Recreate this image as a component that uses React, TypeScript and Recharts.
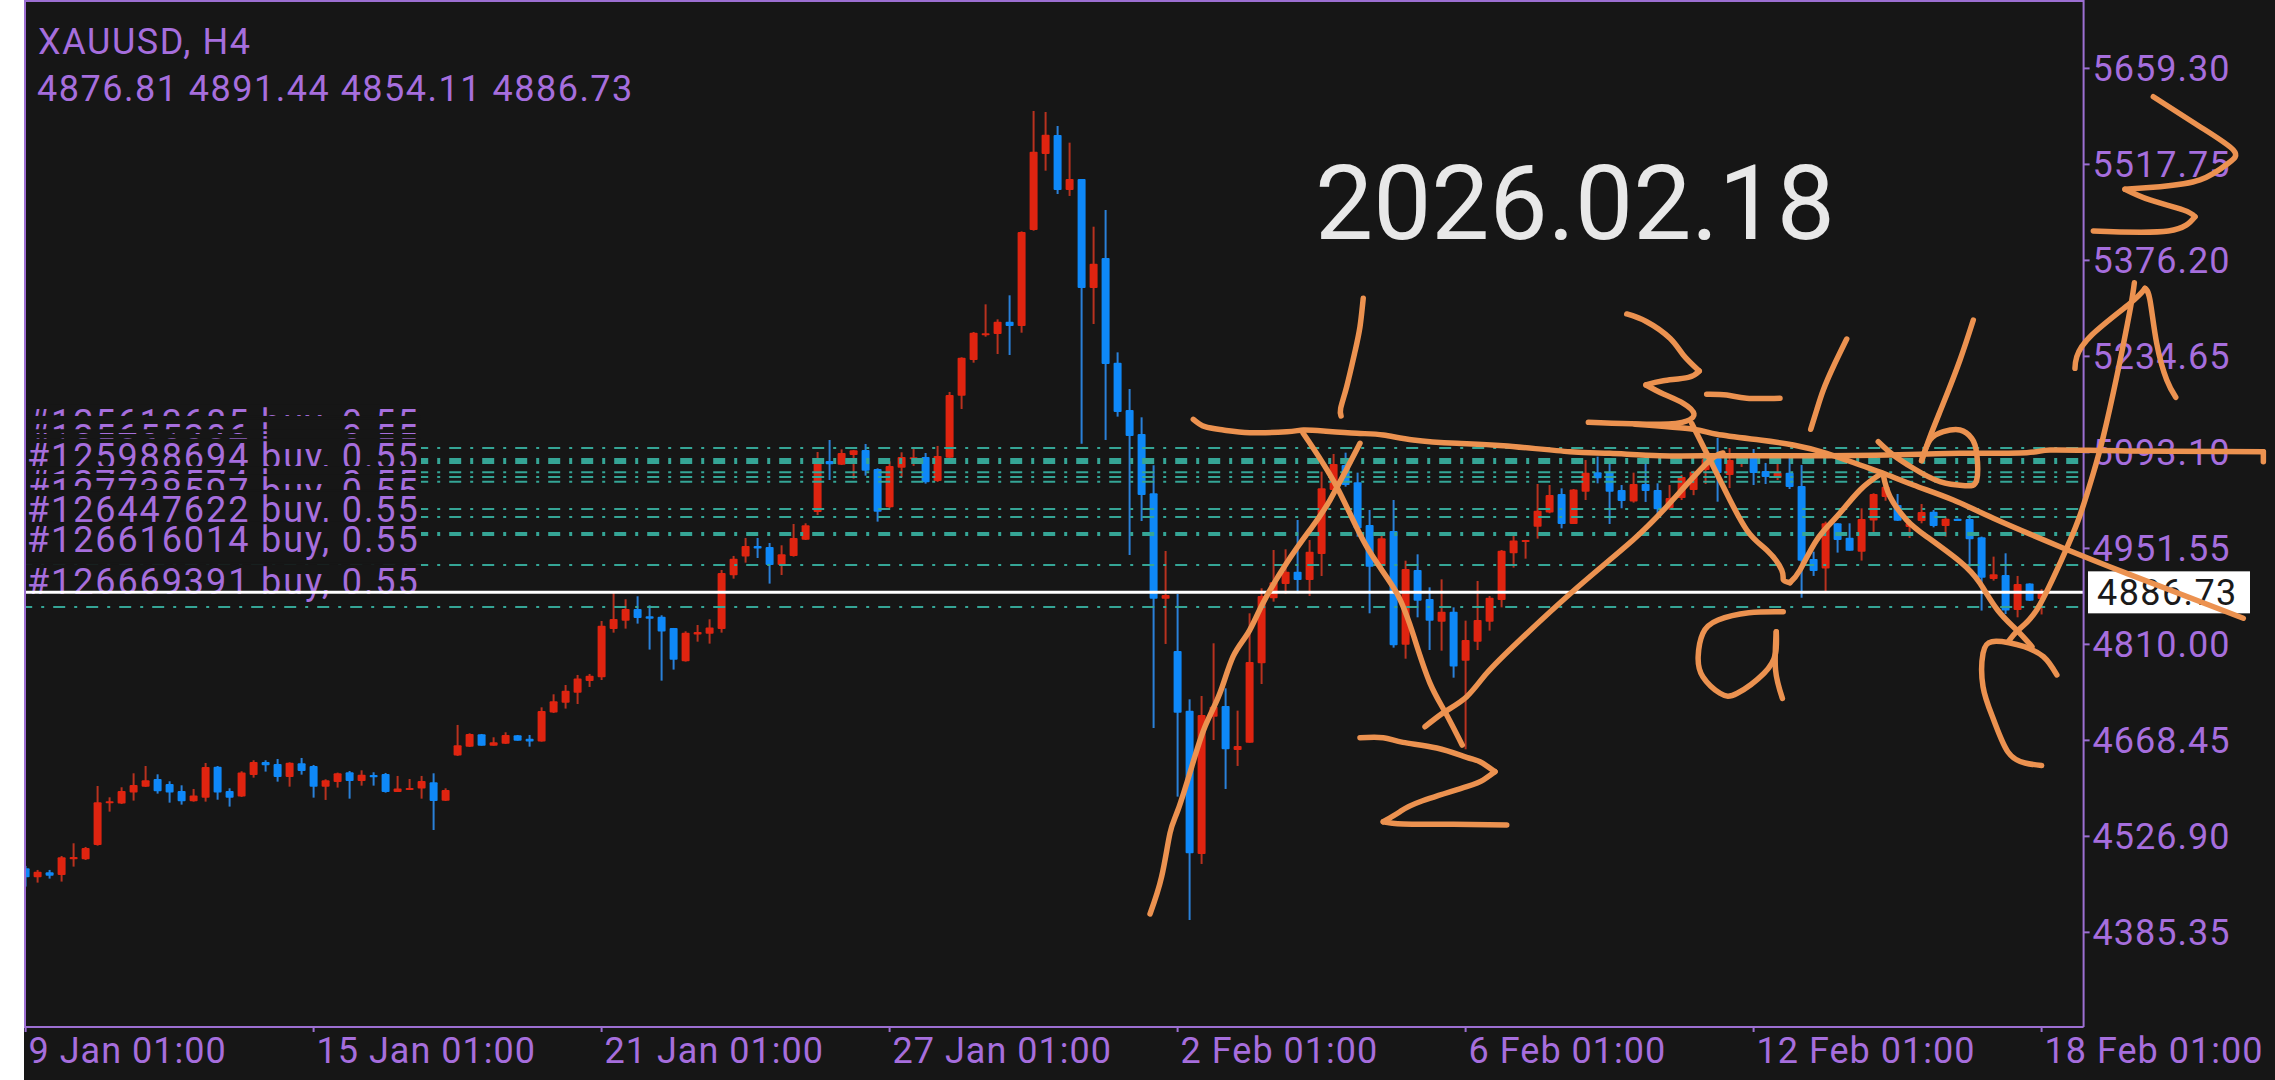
import {
  Bar,
  ComposedChart,
  ReferenceLine,
  Scatter,
  ScatterChart,
  XAxis,
  YAxis,
} from "recharts";

const WIDTH = 2275;
const HEIGHT = 1080;
const BG = "#161616";
const PURPLE = "#a66edd";
const FRAME = "#9c6fd2";
const TEAL = "#35a596";
const INK = "#ec9250";
const UP = "#df2410";
const DOWN = "#0e88f8";
const UP_WICK = "#b8321f";
const DOWN_WICK = "#2a80d8";
const FONT = "Roboto, 'Noto Sans', sans-serif";

const opens = [
  4479.8, 4466.5, 4473.9, 4470, 4493.1, 4493.1, 4514.2, 4576.2, 4575.2, 4591.4, 4600.2, 4611.5,
  4604.2, 4593.9, 4578.6, 4584, 4629.7, 4593.9, 4585.5, 4617.4, 4636.6, 4633.7, 4614.5, 4634.6,
  4630.7, 4600.2, 4607.1, 4621.4, 4608.6, 4617.4, 4618.9, 4592.4, 4595.3, 4597.3, 4606.6, 4579.6,
  4646, 4659.2, 4677.4, 4660.7, 4663.6, 4675.9, 4671, 4666.6, 4709.4, 4724.1, 4738.8, 4756,
  4761.5, 4832.7, 4845, 4862.2, 4851.4, 4850.9, 4834.2, 4785, 4824.4, 4825.8, 4832.7, 4911.9,
  4939.4, 4955.1, 4953.6, 4927, 4940.4, 4964.4, 5005.2, 5080.4, 5075, 5089.3, 5096.7, 5068.6,
  5012.1, 5070.6, 5082.9, 5086.3, 5050.9, 5085.3, 5176.7, 5229.3, 5265.7, 5267.7, 5285.9, 5279.5,
  5421, 5533.1, 5561.1, 5480, 5496.2, 5335.5, 5379.7, 5225.4, 5155.6, 5120.2, 5032.7, 4877.4,
  4800.2, 4712.3, 4500.9, 4703.4, 4719.2, 4654.3, 4665.1, 4782.1, 4877.9, 4899, 4917.2, 4904.9,
  4943.3, 5037.6, 5074.5, 5049, 4986, 4925.6, 4977.2, 4809.6, 4919.7, 4876.9, 4843.5, 4858.2,
  4786, 4814, 4843.5, 4875.4, 4944.3, 4961, 4983.6, 5004.3, 5031.8, 4987.5, 5035.2, 5063.7,
  5063.7, 5037.7, 5020.5, 5046.5, 5037.7, 5011.1, 5025.9, 5037.6, 5067.1, 5084.8, 5059.8, 5079,
  5092.2, 5065.7, 5055.8, 5063.2, 5043.6, 4935.9, 4921.7, 4988.5, 4967.4, 4946.7, 4992.5, 5027.3,
  5015.5, 4983, 4992, 5005.7, 4984.6, 4995.4, 4994.9, 4967.9, 4906.4, 4912.3, 4860.7, 4899.6, 4876.81,
];

const highs = [
  4483.3, 4477.4, 4477.4, 4498, 4516.7, 4511.3, 4601.2, 4584.5, 4599.3, 4619.9, 4630.7, 4618.4,
  4608.1, 4602.2, 4596.8, 4635.1, 4630.7, 4597.8, 4622.9, 4639.1, 4639.1, 4641, 4636.1, 4642.5,
  4632.2, 4611, 4620.9, 4623.3, 4624.3, 4621.4, 4620.4, 4616, 4611.5, 4616, 4619.9, 4597.8,
  4691.2, 4678.9, 4677.9, 4673, 4680.4, 4676.4, 4676.4, 4717.2, 4736.4, 4750.1, 4764.9, 4766.4,
  4844.5, 4887.8, 4876.5, 4880.9, 4867.6, 4852.9, 4834.2, 4829.3, 4838.6, 4847, 4919.7, 4940.4,
  4966.9, 4966.9, 4959.5, 4956.1, 4987.5, 4988.5, 5093.7, 5111.4, 5097.6, 5096.7, 5105.5, 5069.6,
  5079.9, 5093.2, 5100.6, 5092.2, 5102.6, 5182.2, 5233.3, 5270.6, 5311.4, 5289.3, 5324.7, 5419,
  5596.5, 5595, 5574.4, 5549.8, 5496.2, 5425.9, 5450.5, 5240.6, 5186.6, 5144.8, 5074, 4947.7,
  4884.3, 4729, 4733.9, 4811.6, 4745.2, 4712.3, 4855.8, 4892.7, 4949.2, 4950.2, 4993.4, 4963.9,
  5064.7, 5090.7, 5092.7, 5063.2, 5008.2, 4969.8, 5022.9, 4933.4, 4942.8, 4894.1, 4905.9, 4864.6,
  4845, 4903.5, 4881.4, 4949.2, 4971.3, 4964, 5046.5, 5045, 5040.1, 5039.1, 5081.9, 5086.8,
  5081.9, 5045, 5063.2, 5086.8, 5047.5, 5045, 5060, 5066, 5089.3, 5114.3, 5099.6, 5092.2,
  5098.1, 5077.5, 5079, 5084.8, 5074.5, 4946.7, 4991, 4988.5, 4988.5, 5010.6, 5032.8, 5046.5,
  5031.8, 4993.4, 5017, 5008.2, 4997.4, 4995.4, 5000.8, 4968.9, 4939.4, 4944.3, 4910.9, 4900, 4891.44,
];

const lows = [
  4452.8, 4458.7, 4464.6, 4460.2, 4482.3, 4492.1, 4513.2, 4563.4, 4574.7, 4579.6, 4599.8, 4589.9,
  4576.6, 4573.7, 4578.1, 4578.1, 4581, 4570.8, 4585, 4613.5, 4622.4, 4607.6, 4600.2, 4617.9,
  4584, 4580.6, 4598.8, 4582.5, 4601.7, 4601.7, 4591.4, 4592.4, 4595.3, 4582.5, 4536.3, 4579.1,
  4645.5, 4658.7, 4660.7, 4660.7, 4663.2, 4668, 4659.2, 4666.6, 4708.9, 4715.3, 4722.1, 4747.2,
  4757.5, 4827.3, 4833.2, 4840.6, 4802.3, 4756.5, 4772.8, 4784.6, 4814, 4811.1, 4827.3, 4906.9,
  4930.5, 4937.4, 4899.6, 4912.3, 4939.4, 4963.9, 5000.8, 5052.4, 5074.5, 5054.4, 5058.8, 4991,
  5011.1, 5056.9, 5073.1, 5047, 5049.5, 5080.9, 5157.1, 5225.4, 5263.7, 5238.2, 5236.7, 5269.6,
  5420, 5508.5, 5474.1, 5471.2, 5105.9, 5282.4, 5111.4, 5145.8, 4941.8, 4991.9, 4686.7, 4810.6,
  4585.5, 4403.6, 4486.2, 4669, 4596.8, 4630.7, 4665.1, 4751.6, 4873, 4884.3, 4885.3, 4881.3,
  4910.8, 5032.7, 5042.6, 4968.8, 4855.8, 4924.6, 4805.2, 4788.9, 4849.9, 4801.7, 4800.7, 4760.9,
  4655.3, 4801.7, 4830.2, 4864.6, 4923.2, 4936.4, 4965.9, 5003.3, 4981.1, 4987.5, 5022.9, 5047.5,
  4987.5, 5010.7, 5019, 5020, 5000.8, 5008.2, 5022.9, 5030, 5046.5, 5020.4, 5040.6, 5071.6,
  5045, 5046.5, 5052.4, 5039.1, 4878.8, 4910.9, 4887.3, 4945.3, 4948.2, 4933.5, 4975.8, 5021.8,
  4992, 4966.9, 4988.5, 4982.6, 4968.9, 4992, 4924.6, 4859.8, 4904, 4854.8, 4849.9, 4874, 4854.11,
];

const closes = [
  4466.5, 4474.9, 4469, 4496, 4496.5, 4509.8, 4577.1, 4578.6, 4593.9, 4602.7, 4609.6, 4593.4,
  4591.4, 4578.6, 4587, 4629.2, 4591.4, 4584, 4620.9, 4636.6, 4631.7, 4614.5, 4635.6, 4623.3,
  4600.2, 4609.6, 4619.9, 4608.6, 4617.9, 4614, 4592.4, 4597.3, 4598.3, 4608.6, 4579.1, 4595.3,
  4661.2, 4677.9, 4660.7, 4665.6, 4676.4, 4668, 4666.6, 4711.8, 4726, 4741.8, 4759.5, 4763.9,
  4837.6, 4847.5, 4862.2, 4849, 4847.9, 4828.8, 4787.5, 4827.3, 4828.3, 4834.7, 4915.3, 4936.4,
  4955.1, 4951.2, 4927, 4942.8, 4966.9, 4985.6, 5080.4, 5075.5, 5092.2, 5096.2, 5066.2, 5005.7,
  5073.1, 5086.3, 5085.8, 5049, 5087.8, 5177.7, 5232.8, 5269.6, 5268.6, 5285.9, 5279.5, 5418.1,
  5536.5, 5561.6, 5480, 5496.2, 5335.5, 5371.4, 5223.4, 5152.7, 5117.3, 5030.3, 4877.4, 4882.8,
  4709.3, 4501.9, 4705.9, 4718.2, 4655.3, 4660.2, 4784, 4881.4, 4901.5, 4917.2, 4904.9, 4946.7,
  5040.1, 5076, 5045, 4981.1, 4924.6, 4966.4, 4808.6, 4921.2, 4874.5, 4845, 4858.2, 4777.2,
  4816.5, 4846, 4878.9, 4948.2, 4963, 4964, 5007.2, 5030.3, 4987.5, 5038.2, 5063.2, 5054.9,
  5035.2, 5021.5, 5046.5, 5036.2, 5009.2, 5025.9, 5056.8, 5064.6, 5083.4, 5062.7, 5081.9, 5086.3,
  5062.7, 5056.8, 5063.2, 5042, 4933.4, 4918.2, 4988.5, 4964, 4948.2, 4994.9, 5031.8, 5042.5,
  4992.4, 4989, 5005.2, 4984.6, 4995.4, 4992, 4964.9, 4908.4, 4913.3, 4859.8, 4899, 4874.5, 4886.73,
];

const priceTicks = [5659.3, 5517.75, 5376.2, 5234.65, 5093.1, 4951.55, 4810, 4668.45, 4526.9, 4385.35];
const timeTicks = [0, 24, 48, 72, 96, 120, 144, 168];
const timeLabels = [
  "9 Jan 01:00", "15 Jan 01:00", "21 Jan 01:00", "27 Jan 01:00",
  "2 Feb 01:00", "6 Feb 01:00", "12 Feb 01:00", "18 Feb 01:00",
];

const orderPrices = [
  5099.6, 5083.4, 5080.4, 5077.5, 5063.8, 5056.8, 5049.9, 5009.6, 4997.8, 4974.3, 4971.3, 4927.1, 4865,
];
const orderTickets = [
  "#125613685", "#125622197", "#125640318", "#125655206", "#125701442", "#125860027", "#125988694",
  "#127038574", "#127738597", "#126402251", "#126447622", "#126616014", "#126669391",
];
const bidPrice = 4886.73;

// hand drawn marks, as [candle number, price]; a sharp corner starts a new stroke
const waveUp = [[93.7, 4412.5], [94.67, 4467.5], [95.37, 4531.9], [96.03, 4565.8], [97.18, 4629.7], [98.28, 4688.6], [99.53, 4738.3], [100.62, 4791.9], [101.87, 4826.8], [103.12, 4871], [105.09, 4930], [107.03, 4978.7], [108.7, 5022.9], [111.2, 5106.5]];
const waveDown = [[106.45, 5121.7], [109.26, 5042.5], [111.76, 4954], [114.26, 4885.8], [115.78, 4816.5], [117.03, 4753], [118.28, 4710.7], [119.72, 4661.6]];
const twoTop = [[111.2, 4672.4], [113.14, 4672.4], [114.78, 4665.6], [117.59, 4657.2], [120.09, 4643.5], [121.2, 4637], [122.45, 4622.3]];
const twoMiddle = [[122.45, 4622.3], [121.47, 4610], [120.09, 4600.2], [116.2, 4578], [114.53, 4563.3], [113.14, 4548.5]];
const twoBase = [[113.14, 4548.5], [114.81, 4545.2], [118.98, 4544.7], [123.43, 4543.7]];
const topLine = [[97.31, 5141.9], [98.28, 5131], [99.81, 5126.1], [102.03, 5122.2], [105.09, 5123.6], [106.48, 5126.1], [108.14, 5124.7], [110.93, 5121.3], [113.14, 5118.8], [115.64, 5111.4], [119.26, 5106.5], [123.14, 5103], [128.7, 5094.1], [132.03, 5091.8], [136.2, 5088.2], [141.76, 5088.2], [150.09, 5088.2], [157.87, 5090.3], [161.2, 5091.8], [166.76, 5092.7], [168.7, 5096.6], [175.09, 5095.2], [186.48, 5094.1]];
const topLineHook = [[186.48, 5094.1], [186.48, 5079.4]];
const oneLeft = [[111.47, 5320.3], [111.2, 5278.4], [110.78, 5241.6], [110.09, 5190], [109.59, 5158.1], [109.62, 5146.8]];
const threeUpper = [[133.43, 5297.2], [135.09, 5285.8], [137.03, 5261.3], [138.14, 5236.7], [139.47, 5213.1]];
const threeMiddle = [[139.47, 5213.1], [138.56, 5203.8], [136.48, 5198.8], [135.03, 5192.5]];
const threeLower = [[135.03, 5192.5], [136.48, 5179.2], [138.14, 5165.5], [139.03, 5149.7], [138.43, 5139.4], [136.2, 5134.5], [130.23, 5137.5]];
const fallingLine = [[134.12, 5134.5], [138.98, 5127.2], [140.93, 5119.8], [144.53, 5111.4], [147.31, 5104], [150.09, 5091.8], [152.87, 5074.5], [154.81, 5062.3], [157.31, 5045], [160.64, 5022.9], [163.98, 4996], [169.53, 4954.1], [175.09, 4914.8], [184.81, 4848.5]];
const dash = [[140.09, 5178.8], [141.76, 5177.7], [143.43, 5172.9], [146.2, 5172.9]];
const slash = [[151.76, 5260.3], [150.64, 5219.4], [149.81, 5185.1], [149.26, 5155.6], [148.76, 5127.2]];
const bStem = [[162.31, 5288.3], [161.2, 5229.4], [159.81, 5165.5], [158.7, 5116.2], [158, 5080.9]];
const bBowl = [[158, 5080.9], [158.7, 5111.4], [159.81, 5123.6], [161.2, 5126.1], [162.18, 5113.9], [162.59, 5091.8], [162.59, 5052.4], [161.62, 5044], [159.53, 5049.9], [157.31, 5069.7], [155.64, 5089.3], [154.39, 5108.9]];
const longRise = [[116.62, 4688.6], [118.28, 4710.8], [120.09, 4732.9], [121.76, 4767.4], [124.53, 4816.5], [129.26, 4893.1], [133.95, 4964], [137.03, 5018.5], [140.09, 5077], [141.45, 5092.2]];
const legADown = [[138.84, 5136], [140.09, 5091.8], [141.48, 5042.5], [143.43, 4978.7], [145.09, 4949.2], [146.34, 4919.7], [146.48, 4905], [147.03, 4901]];
const legAUp = [[147.03, 4901], [147.87, 4919.7], [149.26, 4964], [150.93, 4998.3], [152.87, 5037.7], [154.68, 5062.3]];
const legC = [[154.81, 5059.8], [155.37, 5027.8], [156.76, 4993.4], [158.43, 4968.8], [161.2, 4932], [162.87, 4900.1], [164.33, 4860.7], [165.92, 4831.2], [167.2, 4806.6]];
const aBowl = [[146.47, 4858.2], [143.6, 4856.7], [141.04, 4846], [139.77, 4826.4], [139.38, 4791.9], [139.77, 4762.4], [141.2, 4737.9], [142.64, 4737.9], [144.87, 4767.4], [145.83, 4796.9], [145.89, 4828.7]];
const aTail = [[145.89, 4828.7], [145.83, 4772.3], [146.4, 4730.5]];
const letterC = [[169.27, 4764.9], [168.15, 4791.9], [166.56, 4806.6], [165.28, 4812.5], [163.85, 4814], [163.12, 4796.9], [163.12, 4747.6], [164.01, 4698.5], [165.2, 4651.3], [166.62, 4635.1], [168, 4631.3]];
const nextRise = [[165.23, 4814], [166.06, 4831.2], [167.59, 4860.7], [169.53, 4929.6], [171.06, 4993.4], [172.31, 5062.3], [173.14, 5116.2], [174.26, 5204.7], [175.37, 5303.1], [175.73, 5343.3]];
const caretUp = [[170.78, 5217.1], [170.93, 5234.2], [172.18, 5266.2], [175.37, 5312.9], [176.62, 5335]];
const caretDown = [[176.62, 5335], [177.03, 5317.8], [177.59, 5254], [178.43, 5199.9], [179.18, 5174.3]];
const threeRightUpper = [[177.31, 5617.6], [181.2, 5573.3], [183.98, 5539], [183.56, 5519.4], [181.2, 5494.8], [177.87, 5484.9], [174.95, 5481.1]];
const threeRightLower = [[174.95, 5481.1], [177.03, 5465.3], [179.81, 5450.5], [180.78, 5440.6]];
const threeRightBase = [[180.78, 5440.6], [178.56, 5419.6], [172.31, 5419.6]];

const strokes = [
  waveUp, waveDown, twoTop, twoMiddle, twoBase, topLine, topLineHook, oneLeft,
  threeUpper, threeMiddle, threeLower, fallingLine, dash, slash, bStem, bBowl,
  longRise, legADown, legAUp, legC, aBowl, aTail, letterC, nextRise,
  caretUp, caretDown, threeRightUpper, threeRightLower, threeRightBase,
];

const candles = opens.map((open, idx) => ({
  idx,
  open,
  high: highs[idx],
  low: lows[idx],
  close: closes[idx],
  range: [lows[idx], highs[idx]],
}));

const Candle = (props: any) => {
  const { x, y, width, height, payload } = props;
  const { open, high, low, close } = payload;
  const toY = (price: number) => y + ((high - price) / (high - low || 1)) * height;
  const rising = close >= open;
  const top = toY(Math.max(open, close));
  const bottom = toY(Math.min(open, close));
  const mid = x + width / 2;
  return (
    <g>
      <line x1={mid} x2={mid} y1={y} y2={y + height} stroke={rising ? UP_WICK : DOWN_WICK} strokeWidth={2} />
      <rect x={x} y={top} width={width} height={Math.max(bottom - top, 2)} rx={1} fill={rising ? UP : DOWN} />
    </g>
  );
};

const TimeTick = (props: any) => {
  const { x, y, payload } = props;
  return (
    <text x={x + 3} y={y + 29} fill={PURPLE} fontSize={36} fontFamily={FONT} letterSpacing={1}>
      {timeLabels[timeTicks.indexOf(payload.value)]}
    </text>
  );
};

const OrderTag = ({ y, ticket }: { y: number; ticket: string }) => (
  <g>
    <rect x={25} y={y - 43} width={396} height={41} fill={BG} />
    <text x={27} y={y - 13} fill={PURPLE} fontSize={36} fontFamily={FONT} letterSpacing={1.9}>
      {ticket} buy, 0.55
    </text>
  </g>
);

const BidTag = ({ y }: { y: number }) => (
  <g>
    <rect x={2088} y={y - 21} width={162} height={42} fill="#ffffff" />
    <text x={2097} y={y + 13} fill="#1a1a1a" fontSize={36} fontFamily={FONT} letterSpacing={1.4}>
      {bidPrice.toFixed(2)}
    </text>
  </g>
);

const noDot = () => <g />;

export default function App() {
  return (
    <div style={{ position: "absolute", left: 0, top: 0, width: WIDTH, height: HEIGHT, background: BG, overflow: "hidden" }}>
      <ComposedChart
        width={WIDTH}
        height={HEIGHT}
        data={candles}
        margin={{ top: 0, right: 0, bottom: 0, left: 19.6 }}
        barCategoryGap={0}
      >
        <XAxis
          dataKey="idx"
          type="category"
          ticks={timeTicks}
          interval={0}
          height={53}
          padding={{ left: 0, right: 36 }}
          stroke={FRAME}
          axisLine={{ stroke: FRAME, strokeWidth: 2 }}
          tickLine={{ stroke: FRAME, strokeWidth: 2 }}
          tickSize={5}
          tick={<TimeTick />}
        />
        <YAxis
          orientation="right"
          type="number"
          width={191.4}
          domain={[4245.8, 5760.16]}
          allowDataOverflow
          ticks={priceTicks}
          interval={0}
          axisLine={{ stroke: FRAME, strokeWidth: 2 }}
          tickLine={{ stroke: FRAME, strokeWidth: 2 }}
          tickSize={6}
          tickMargin={3}
          tickFormatter={(v: number) => v.toFixed(2)}
          tick={{ fill: PURPLE, fontSize: 36, fontFamily: FONT, letterSpacing: 1 }}
        />
        {orderPrices.map((price, i) => (
          <ReferenceLine
            key={price}
            y={price}
            stroke={TEAL}
            strokeWidth={2}
            strokeDasharray="12 9 3 9"
            strokeDashoffset={-5.4}
            label={(p: any) => <OrderTag y={p.viewBox.y} ticket={orderTickets[i]} />}
          />
        ))}
        <ReferenceLine
          y={bidPrice}
          stroke="#ffffff"
          strokeWidth={3}
          label={(p: any) => <BidTag y={p.viewBox.y} />}
        />
        <Bar dataKey="range" barSize={8} shape={<Candle />} isAnimationActive={false} />
      </ComposedChart>

      {/* page margin to the left of the terminal window, and its frame */}
      <div style={{ position: "absolute", left: 0, top: 0, width: 24, height: HEIGHT, background: "#ffffff" }} />
      <div
        style={{
          position: "absolute",
          left: 24,
          top: 0,
          width: 2058,
          height: 1026,
          borderLeft: `2px solid ${FRAME}`,
          borderTop: `2px solid ${FRAME}`,
          pointerEvents: "none",
        }}
      />

      <div style={{ position: "absolute", left: 0, top: 0 }}>
        <ScatterChart width={WIDTH} height={HEIGHT} margin={{ top: 0, right: 0, bottom: 0, left: 0 }}>
          <XAxis type="number" dataKey="x" domain={[-2.133, 187.45]} hide />
          <YAxis type="number" dataKey="y" domain={[4167.7, 5760.16]} hide />
          {strokes.map((stroke, i) => (
            <Scatter
              key={i}
              data={stroke.map(([x, y]) => ({ x, y }))}
              shape={noDot}
              line={{ stroke: INK, strokeWidth: 5.5, strokeLinecap: "round", strokeLinejoin: "round", fill: "none" }}
              lineJointType="natural"
              isAnimationActive={false}
            />
          ))}
          <text x={38} y={54} fill={PURPLE} fontSize={36} fontFamily={FONT} letterSpacing={1.6}>XAUUSD, H4</text>
          <text x={37} y={101} fill={PURPLE} fontSize={36} fontFamily={FONT} letterSpacing={1.5}>
            4876.81 4891.44 4854.11 4886.73
          </text>
          <text x={1315} y={239} fill="#e8e8e8" fontSize={103.5} fontFamily={FONT}>2026.02.18</text>
        </ScatterChart>
      </div>
    </div>
  );
}
